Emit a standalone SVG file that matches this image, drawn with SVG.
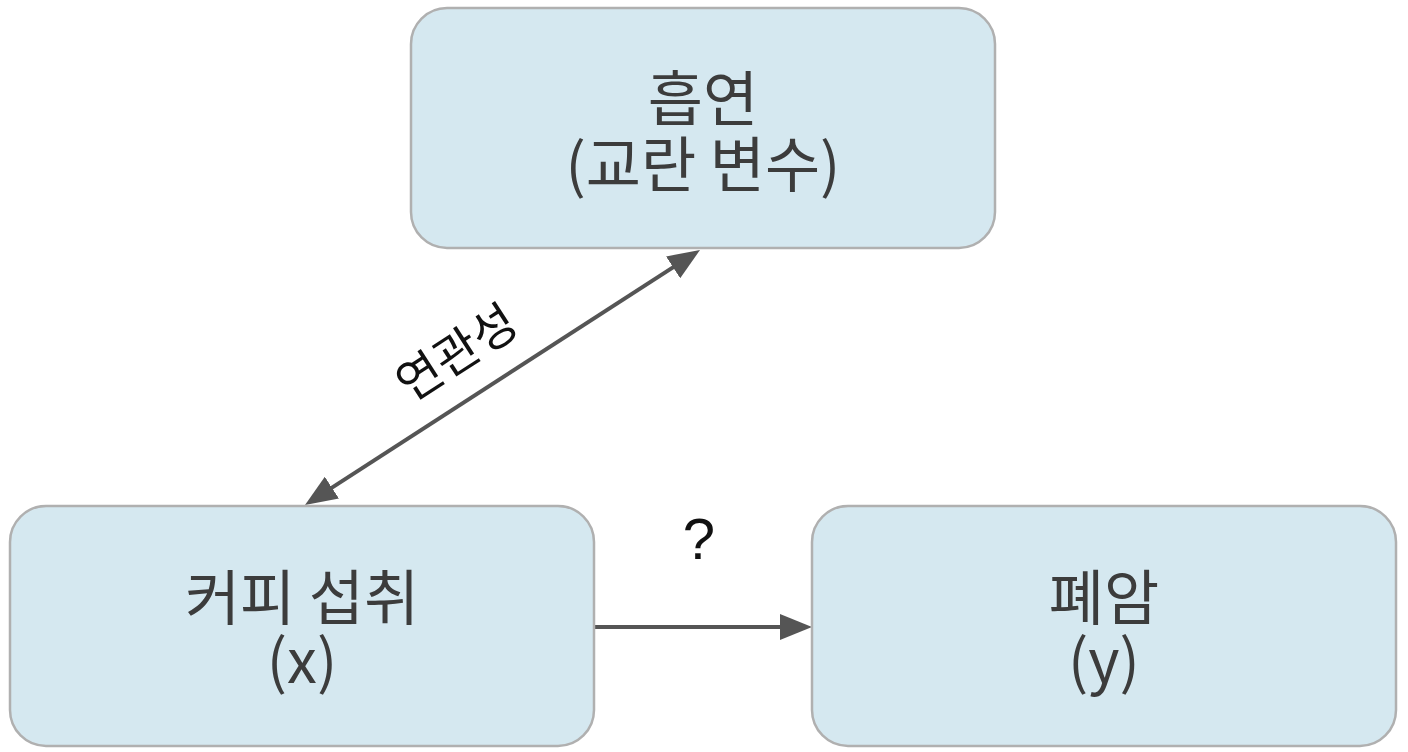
<svg xmlns="http://www.w3.org/2000/svg" width="1408" height="752" viewBox="0 0 1408 752">
<style>
.node rect { fill: #d5e8f0; stroke: #b0b0b0; stroke-width: 2.5; }
.node text { font-family: "Noto Sans CJK KR", "Noto Sans", sans-serif; font-size: 60px; fill: #3c3c3c; text-anchor: middle; }
.edge { stroke: #555555; stroke-width: 4; fill: none; }
.lbl { fill: #111111; text-anchor: middle; }
</style>
<defs>
<marker id="arr" viewBox="0 0 32 26" refX="22" refY="13" markerWidth="32" markerHeight="26" markerUnits="userSpaceOnUse" orient="auto-start-reverse">
<path d="M0,0 L32,13 L0,26 z" fill="#555555"/>
</marker>
</defs>
<rect width="1408" height="752" fill="#ffffff"/>
<g id="connectors">
<line class="edge" x1="313.4" y1="499.6" x2="691.6" y2="255.4" marker-start="url(#arr)" marker-end="url(#arr)"/>
<line class="edge" x1="595" y1="627" x2="802" y2="627" marker-end="url(#arr)"/>
<text class="lbl" font-family="'Noto Sans CJK KR', 'Noto Sans', sans-serif" font-size="48" transform="translate(466,367) rotate(-32.8)">연관성</text>
<text class="lbl" font-family="'Liberation Sans', Arial, sans-serif" font-size="58" x="699" y="559">?</text>
</g>
<g id="smoking" class="node">
<rect x="411" y="8" width="584" height="240" rx="36"/>
<text x="703" y="121">흡연</text>
<text x="703" y="187">(교란 변수)</text>
</g>
<g id="coffee" class="node">
<rect x="10" y="506" width="584" height="240" rx="36"/>
<text x="302" y="620">커피 섭취</text>
<text x="302" y="683">(x)</text>
</g>
<g id="cancer" class="node">
<rect x="812" y="506" width="584" height="240" rx="36"/>
<text x="1104" y="620">폐암</text>
<text x="1104" y="683">(y)</text>
</g>
</svg>
